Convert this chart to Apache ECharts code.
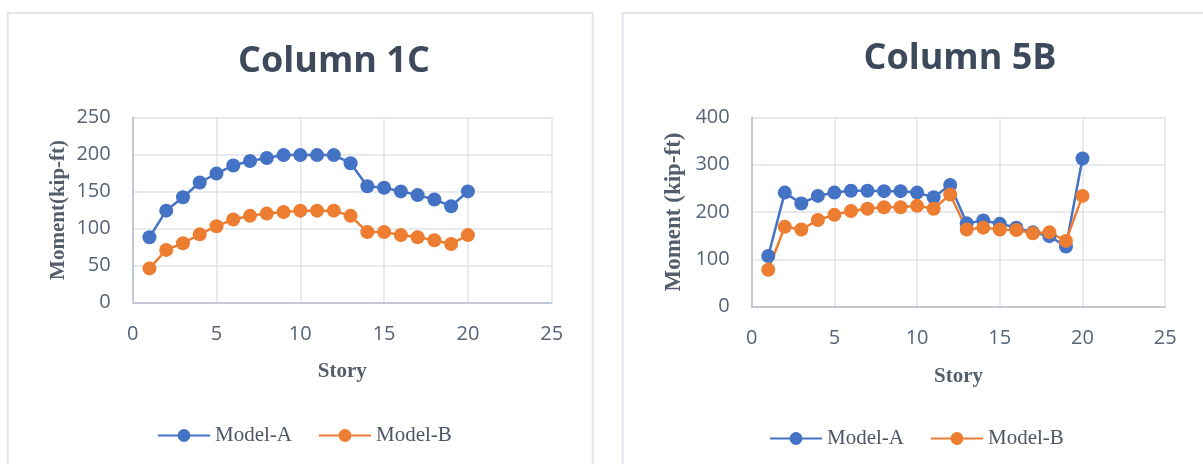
<!DOCTYPE html>
<html>
<head>
<meta charset="utf-8">
<script src="https://cdn.jsdelivr.net/npm/echarts@6/dist/echarts.min.js"></script>
<style>
  html, body { margin: 0; padding: 0; background: #ffffff; }
  #chart { width: 1203px; height: 464px; }
</style>
</head>
<body>
<div id="chart"></div>
<script>
// Story numbers along the x axis
const stories = [1, 2, 3, 4, 5, 6, 7, 8, 9, 10, 11, 12, 13, 14, 15, 16, 17, 18, 19, 20];

// Column 1C moments (kip-ft)
const col1C_modelA = [88, 124, 142, 162, 174, 185, 191, 195, 199, 199, 199, 199, 188, 157, 155, 150, 145, 139, 130, 150];
const col1C_modelB = [46, 71, 80, 92, 103, 112, 117, 120, 122, 124, 124, 124, 117, 95, 95, 91, 88, 84, 79, 91];

// Column 5B moments (kip-ft)
const col5B_modelA = [107, 241, 218, 234, 241, 245, 245, 244, 244, 241, 231, 257, 176, 182, 175, 167, 157, 149, 127, 313];
const col5B_modelB = [78, 169, 163, 183, 194, 202, 207, 210, 210, 213, 207, 237, 163, 167, 163, 162, 155, 157, 139, 234];

// Axis ranges / tick steps
const xTicks = { min: 0, max: 25, interval: 5 };
const yTicks1C = { min: 0, max: 250, interval: 50 };
const yTicks5B = { min: 0, max: 400, interval: 100 };

const seriesNames = ['Model-A', 'Model-B'];
const titles = ['Column 1C', 'Column 5B'];
const yNames = ['Moment(kip-ft)', 'Moment (kip-ft)'];

const BLUE = '#4472C4';
const ORANGE = '#ED7D31';
const GRID_C = '#dfe3ea';
const AXIS_C = '#b7bfcc';
const TICK_TEXT = '#586376';
const TITLE_C = '#3e4a5c';

const pairs = (ys) => stories.map((s, i) => [s, ys[i]]);

function xAxisFor(gridIndex, gap) {
  return {
    gridIndex, type: 'value', ...xTicks,
    name: 'Story', nameLocation: 'middle', nameGap: gap,
    nameTextStyle: { fontFamily: 'Liberation Serif', fontWeight: 'bold', fontSize: 21, color: '#555d6b' },
    axisLine: { show: true, lineStyle: { color: AXIS_C, width: 1.5 } },
    axisTick: { show: false },
    axisLabel: { fontFamily: 'Open Sans', fontSize: 20, color: TICK_TEXT, margin: 22 },
    splitLine: { show: true, lineStyle: { color: GRID_C, width: 1.5 } }
  };
}

function yAxisFor(gridIndex, ticks, name, size, gap) {
  return {
    gridIndex, type: 'value', ...ticks,
    name, nameLocation: 'middle', nameGap: gap,
    nameTextStyle: { fontFamily: 'Liberation Serif', fontWeight: 'bold', fontSize: size, color: '#555d6b' },
    axisLine: { show: true, lineStyle: { color: AXIS_C, width: 1.5 } },
    axisTick: { show: false },
    axisLabel: { fontFamily: 'Open Sans', fontSize: 20, color: TICK_TEXT, margin: 22 },
    splitLine: { show: true, lineStyle: { color: GRID_C, width: 1.5 } }
  };
}

function lineSeries(name, color, data, idx) {
  return {
    name, type: 'line', xAxisIndex: idx, yAxisIndex: idx,
    data, symbol: 'circle', symbolSize: 14,
    lineStyle: { color, width: 2.5 },
    itemStyle: { color },
    animation: false
  };
}

const legendText = { fontFamily: 'Liberation Serif', fontSize: 21, color: '#4d5566' };

const chart = echarts.init(document.getElementById('chart'), null, { renderer: 'canvas' });

chart.setOption({
  backgroundColor: '#ffffff',
  animation: false,
  title: [
    { text: titles[0], left: 329, top: 39, textAlign: 'center',
      textStyle: { fontFamily: 'Open Sans', fontWeight: 'bold', fontSize: 36, color: TITLE_C } },
    { text: titles[1], left: 955, top: 36, textAlign: 'center',
      textStyle: { fontFamily: 'Open Sans', fontWeight: 'bold', fontSize: 36, color: TITLE_C } }
  ],
  legend: [
    { data: seriesNames, left: 152, top: 420, itemWidth: 52, itemHeight: 16, itemGap: 26,
      textStyle: legendText },
    { data: seriesNames, left: 764, top: 423, itemWidth: 52, itemHeight: 16, itemGap: 26,
      textStyle: legendText }
  ],
  grid: [
    { left: 132.7, top: 117.3, width: 419, height: 185.2, outerBoundsMode: 'none' },
    { left: 751.7, top: 117.3, width: 413.5, height: 189.4, outerBoundsMode: 'none' }
  ],
  xAxis: [xAxisFor(0, 59), xAxisFor(1, 59)],
  yAxis: [
    yAxisFor(0, yTicks1C, yNames[0], 21, 64),
    yAxisFor(1, yTicks5B, yNames[1], 23, 66)
  ],
  series: [
    lineSeries(seriesNames[0], BLUE, pairs(col1C_modelA), 0),
    lineSeries(seriesNames[1], ORANGE, pairs(col1C_modelB), 0),
    lineSeries(seriesNames[0], BLUE, pairs(col5B_modelA), 1),
    lineSeries(seriesNames[1], ORANGE, pairs(col5B_modelB), 1)
  ],
  graphic: [
    { type: 'rect', shape: { x: 7.7, y: 13, width: 585, height: 470 },
      style: { fill: 'none', stroke: '#e0e5ec', lineWidth: 2 }, silent: true, z: -10 },
    { type: 'rect', shape: { x: 622.7, y: 13, width: 620, height: 470 },
      style: { fill: 'none', stroke: '#e0e5ec', lineWidth: 2 }, silent: true, z: -10 }
  ]
});
</script>
</body>
</html>
